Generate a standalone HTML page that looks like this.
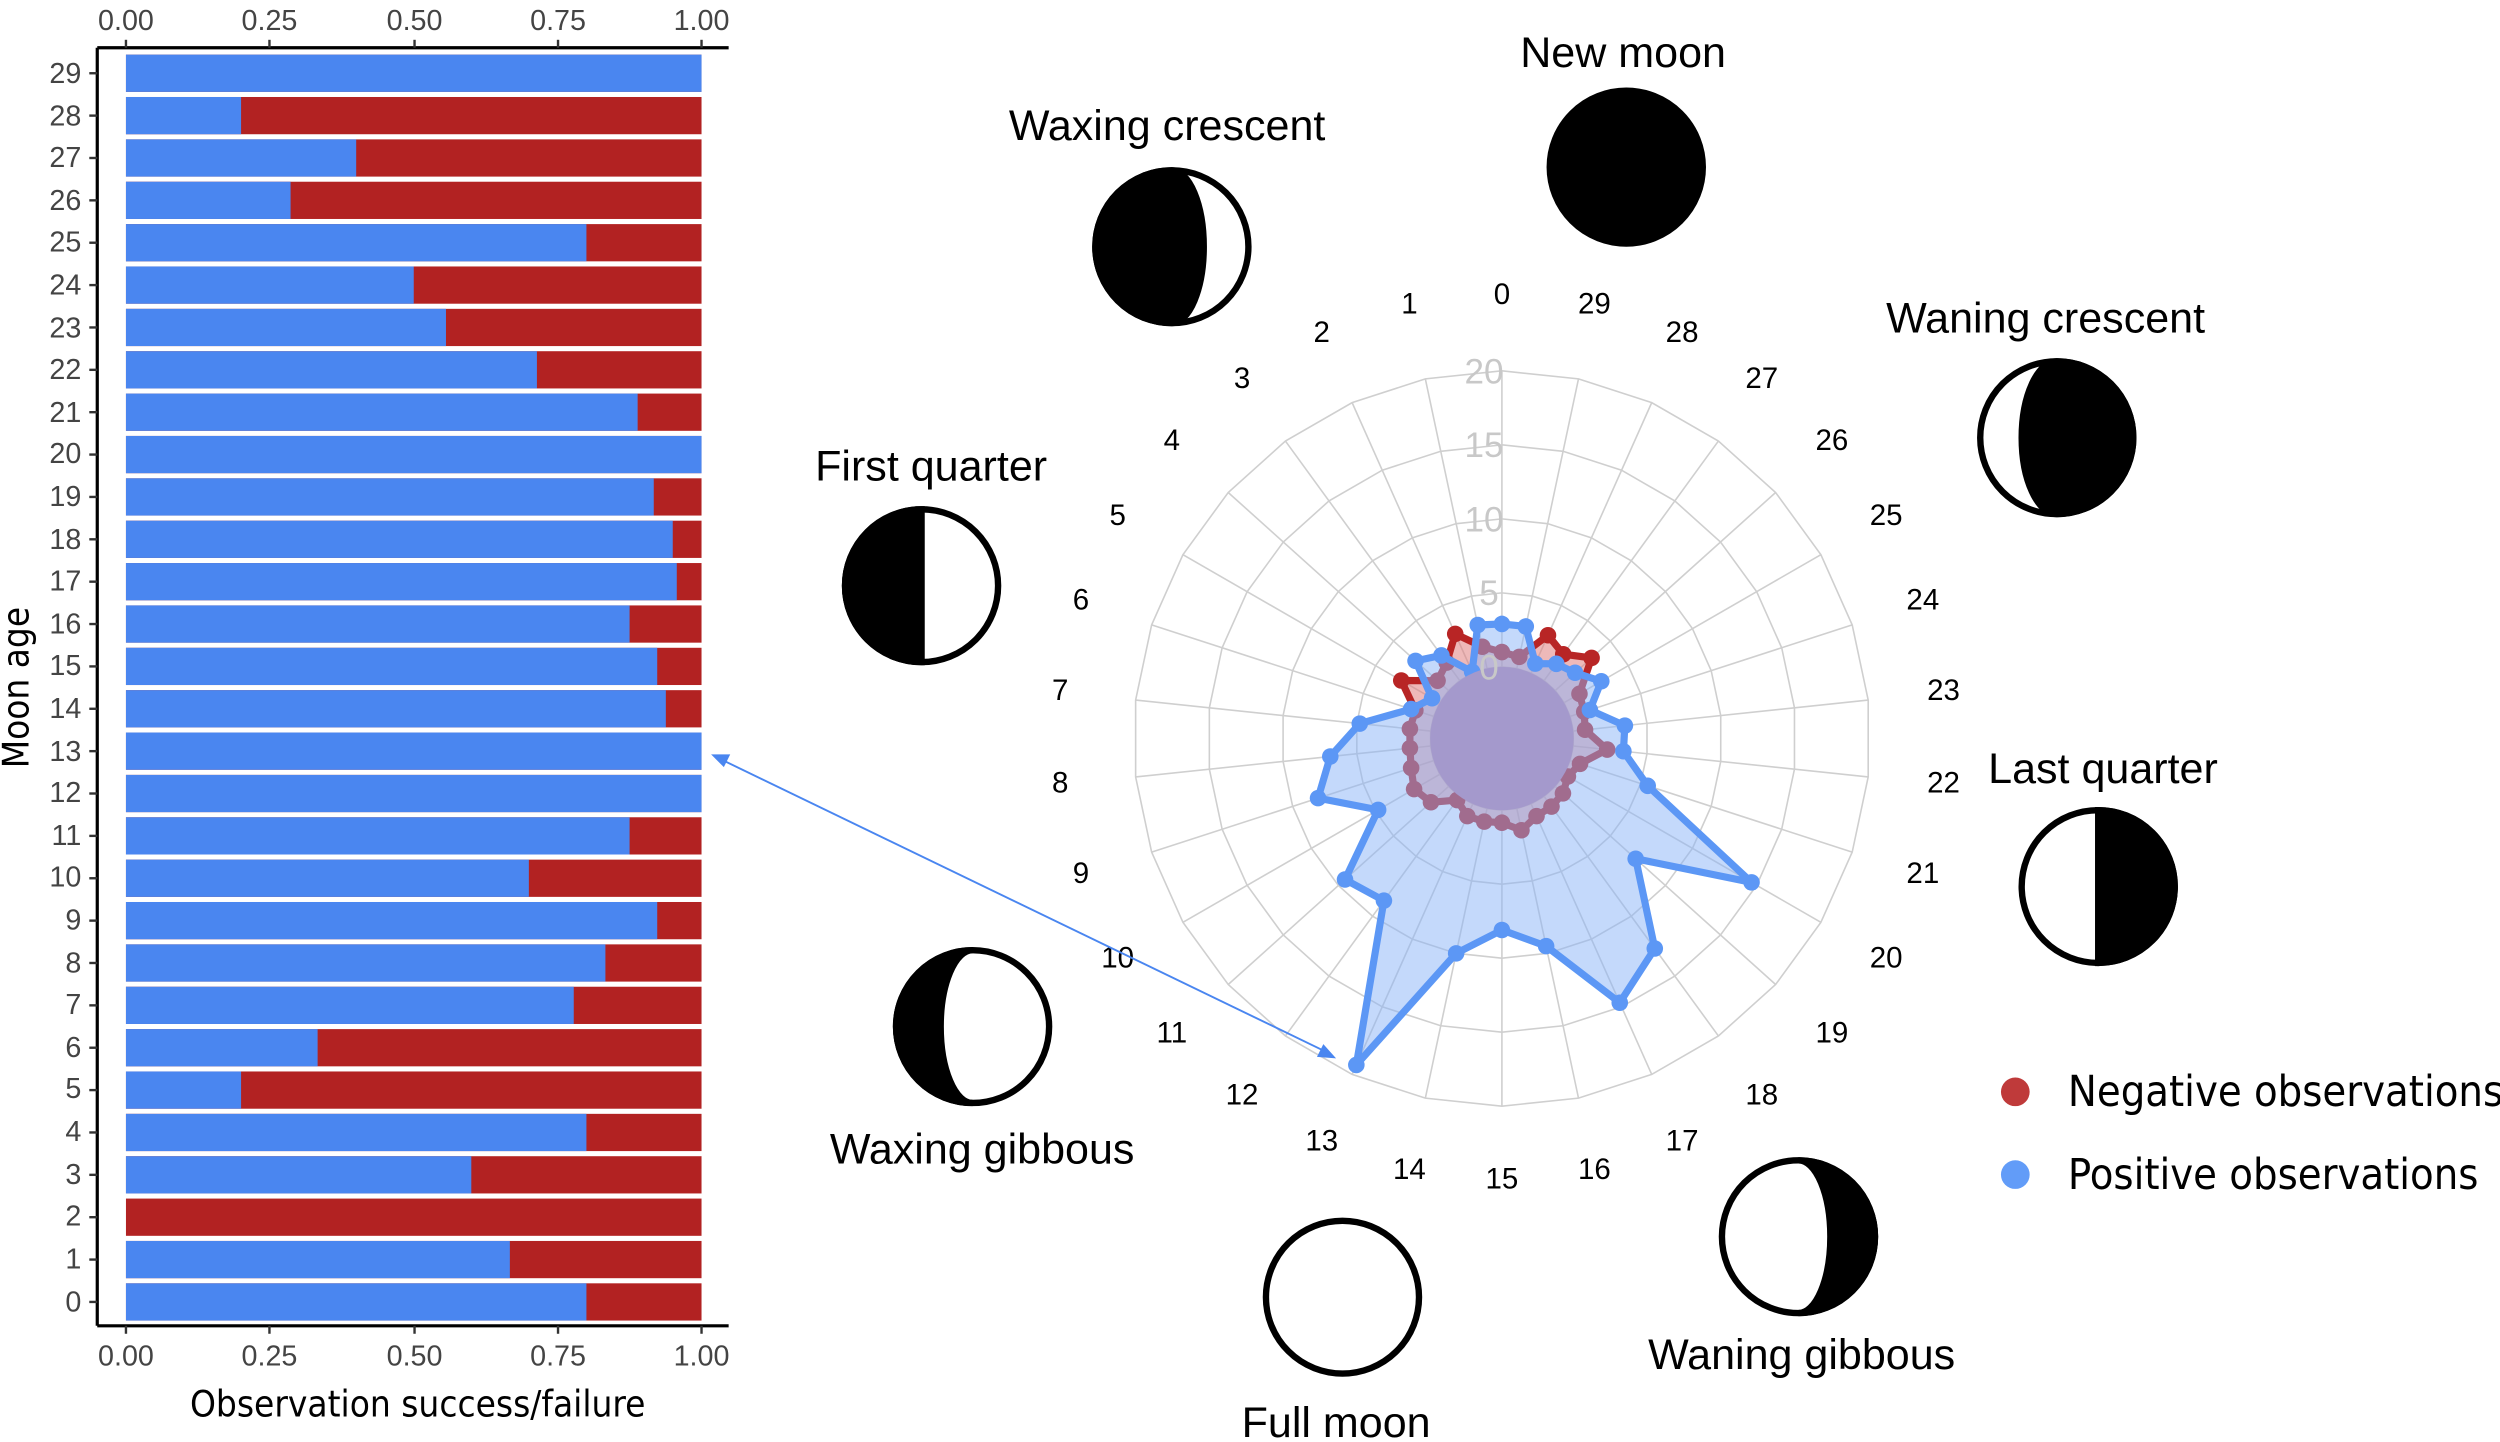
<!DOCTYPE html>
<html><head><meta charset="utf-8"><style>
html,body{margin:0;padding:0;background:#fff}
svg{display:block}
text{font-family:"Liberation Sans",sans-serif}
.t{font-family:"DejaVu Sans Condensed","Liberation Sans",sans-serif;font-size:27px;fill:#000}
.bt{font-size:18px;fill:#444;font-family:"Liberation Sans Narrow","Liberation Sans",sans-serif}
.rl{font-size:18.5px;fill:#000;text-anchor:middle;dominant-baseline:middle}
</style></head><body>
<svg id="s" width="2500" height="1442" viewBox="0 0 1568 906" preserveAspectRatio="none" xmlns="http://www.w3.org/2000/svg">
<g id="bars"></g>
<line x1="61" y1="30" x2="457" y2="30" stroke="#000" stroke-width="2"/>
<line x1="61" y1="30" x2="61" y2="833" stroke="#000" stroke-width="2"/>
<line x1="61" y1="833" x2="457" y2="833" stroke="#000" stroke-width="2"/>
<g class="bt" text-anchor="middle">
<text x="79" y="19">0.00</text><text x="169" y="19">0.25</text><text x="260" y="19">0.50</text><text x="350" y="19">0.75</text><text x="440" y="19">1.00</text>
<text x="79" y="858">0.00</text><text x="169" y="858">0.25</text><text x="260" y="858">0.50</text><text x="350" y="858">0.75</text><text x="440" y="858">1.00</text>
</g>
<g class="bt" text-anchor="end" id="ylab">
<text x="51" y="52">29</text><text x="51" y="79">28</text><text x="51" y="105">27</text><text x="51" y="132">26</text><text x="51" y="158">25</text><text x="51" y="185">24</text><text x="51" y="212">23</text><text x="51" y="238">22</text><text x="51" y="265">21</text><text x="51" y="291">20</text><text x="51" y="318">19</text><text x="51" y="345">18</text><text x="51" y="371">17</text><text x="51" y="398">16</text><text x="51" y="424">15</text><text x="51" y="451">14</text><text x="51" y="478">13</text><text x="51" y="504">12</text><text x="51" y="531">11</text><text x="51" y="557">10</text><text x="51" y="584">9</text><text x="51" y="611">8</text><text x="51" y="637">7</text><text x="51" y="664">6</text><text x="51" y="690">5</text><text x="51" y="717">4</text><text x="51" y="744">3</text><text x="51" y="770">2</text><text x="51" y="797">1</text><text x="51" y="824">0</text>
</g>
<g id="ticks"></g>
<text class="t" x="262" y="890" text-anchor="middle" style="font-size:23px">Observation success/failure</text>
<text class="t" x="0" y="0" transform="translate(18,432) rotate(-90)" text-anchor="middle" style="font-size:23px">Moon age</text>

<g id="radar"></g>
<g class="rl">
<text x="942" y="186">0</text><text x="884" y="192">1</text><text x="829" y="210">2</text><text x="779" y="239">3</text><text x="735" y="278">4</text><text x="701" y="325">5</text><text x="678" y="378">6</text><text x="665" y="435">7</text><text x="665" y="493">8</text><text x="678" y="550">9</text><text x="701" y="603">10</text><text x="735" y="650">11</text><text x="779" y="689">12</text><text x="829" y="718">13</text><text x="884" y="736">14</text><text x="942" y="742">15</text><text x="1000" y="736">16</text><text x="1055" y="718">17</text><text x="1105" y="689">18</text><text x="1149" y="650">19</text><text x="1183" y="603">20</text><text x="1206" y="550">21</text><text x="1219" y="493">22</text><text x="1219" y="435">23</text><text x="1206" y="378">24</text><text x="1183" y="325">25</text><text x="1149" y="278">26</text><text x="1105" y="239">27</text><text x="1055" y="210">28</text><text x="1000" y="192">29</text>
</g>
<g fill="#c8c8c8" font-size="22" text-anchor="end">
<text x="943" y="241">20</text><text x="943" y="287">15</text><text x="943" y="334">10</text><text x="940" y="380">5</text><text x="940" y="427">0</text>
</g>

<line x1="452" y1="477" x2="832" y2="661" stroke="#4a86f0" stroke-width="1.2"/>
<polygon points="446,474 458,474 454,482" fill="#4a86f0"/>
<polygon points="838,665 826,664 830,656" fill="#4a86f0"/>

<g stroke="#000" stroke-width="4">
<circle cx="1020" cy="105" r="48" fill="#000"/>
<circle cx="735" cy="155" r="48" fill="#fff"/>
<path d="M735,107 A48,48 0 0 0 735,203 A20,48 0 0 0 735,107Z" fill="#000"/>
<circle cx="1290" cy="275" r="48" fill="#fff"/>
<path d="M1290,227 A48,48 0 0 1 1290,323 A22,48 0 0 1 1290,227Z" fill="#000"/>
<circle cx="578" cy="368" r="48" fill="#fff"/>
<path d="M578,320 A48,48 0 0 0 578,416Z" fill="#000"/>
<circle cx="1316" cy="557" r="48" fill="#fff"/>
<path d="M1316,509 A48,48 0 0 1 1316,605Z" fill="#000"/>
<circle cx="610" cy="645" r="48" fill="#fff"/>
<path d="M610,597 A48,48 0 0 0 610,693 A20,48 0 0 1 610,597Z" fill="#000"/>
<circle cx="842" cy="815" r="48" fill="#fff"/>
<circle cx="1128" cy="777" r="48" fill="#fff"/>
<path d="M1128,729 A48,48 0 0 1 1128,825 A20,48 0 0 0 1128,729Z" fill="#000"/>
</g>
<g class="t" text-anchor="middle">
<text x="1018" y="42">New moon</text>
<text x="732" y="88">Waxing crescent</text>
<text x="1283" y="209">Waning crescent</text>
<text x="584" y="302">First quarter</text>
<text x="1319" y="492">Last quarter</text>
<text x="616" y="731">Waxing gibbous</text>
<text x="838" y="903">Full moon</text>
<text x="1130" y="860">Waning gibbous</text>
</g>
<circle cx="1264" cy="686" r="9" fill="#bf3a3a"/>
<circle cx="1264" cy="738" r="9" fill="#629cf8"/>
<text class="t" x="1297" y="695">Negative observations</text>
<text class="t" x="1297" y="747">Positive observations</text>
</svg>
<script>
var NS="http://www.w3.org/2000/svg";
function el(p,n,a){var e=document.createElementNS(NS,n);for(var k in a)e.setAttribute(k,a[k]);p.appendChild(e);return e;}
var bars=document.getElementById('bars'),ticks=document.getElementById('ticks');
var f={29:1,28:.2,27:.4,26:.286,25:.8,24:.5,23:.556,22:.714,21:.889,20:1,19:.917,18:.95,17:.957,16:.875,15:.923,14:.938,13:1,12:1,11:.875,10:.7,9:.923,8:.833,7:.778,6:.333,5:.2,4:.8,3:.6,2:0,1:.667,0:.8};
for(var i=0;i<30;i++){var cy=818-i*26.62,y=cy-11.7,h=23.4,x0=79,W=361,bw=W*f[i];
el(bars,'rect',{x:x0,y:y,width:W,height:h,fill:'#b22222'});
if(bw>0)el(bars,'rect',{x:x0,y:y,width:bw,height:h,fill:'#4a86f0'});
el(ticks,'line',{x1:56,y1:cy,x2:61,y2:cy,stroke:'#333','stroke-width':1.5});}
[79,169,260,350,440].forEach(function(x){el(ticks,'line',{x1:x,y1:25,x2:x,y2:30,stroke:'#333','stroke-width':1.5});el(ticks,'line',{x1:x,y1:833,x2:x,y2:838,stroke:'#333','stroke-width':1.5});});
var R=document.getElementById('radar'),cx=942,cy0=464;
function pt(i,r){var a=i*12*Math.PI/180;return [cx-r*Math.sin(a),cy0-r*Math.cos(a)];}
function rv(v){return 45+9.3*v;}
[0,5,10,15,20].forEach(function(v){var p=[];for(var i=0;i<30;i++)p.push(pt(i,rv(v)).join(','));el(R,'polygon',{points:p.join(' '),fill:'none',stroke:'#cfcfcf','stroke-width':1});});
for(var i=0;i<30;i++){var a=pt(i,45),b=pt(i,rv(20));el(R,'line',{x1:a[0],y1:a[1],x2:b[0],y2:b[1],stroke:'#cfcfcf','stroke-width':1});}
var blue=[2.9,3.0,0.1,2.1,3.0,0.6,1.6,4.8,6.8,8.2,4.8,9.4,8.7,19.3,10,8.1,9.5,14.7,12.7,7.3,14.6,5.5,3.4,3.5,1.4,2.9,1.8,1.4,0.7,2.9];
var red=[1.0,1.5,2.9,1.5,1.0,3.0,1.3,1.4,1.4,1.6,2.0,1.6,0.3,0.9,0.9,0.85,1.5,0.9,0.85,0.7,0.3,0.7,2.3,0.8,1.0,1.2,3.3,2.2,2.8,0.8];
function poly(vals,fill,op,stroke){var p=vals.map(function(v,i){return pt(i,rv(v));});
el(R,'polygon',{points:p.map(function(q){return q.join(',')}).join(' '),fill:fill,'fill-opacity':op,stroke:stroke,'stroke-width':4.5,'stroke-linejoin':'round'});
p.forEach(function(q){el(R,'circle',{cx:q[0],cy:q[1],r:5.2,fill:stroke});});}
poly(red,'#e08080',0.55,'#b82525');
poly(blue,'#8ab4f8',0.5,'#5c97f5');
el(R,'circle',{cx:cx,cy:cy0,r:45,fill:'#a499cc'});
</script>
</body></html>
